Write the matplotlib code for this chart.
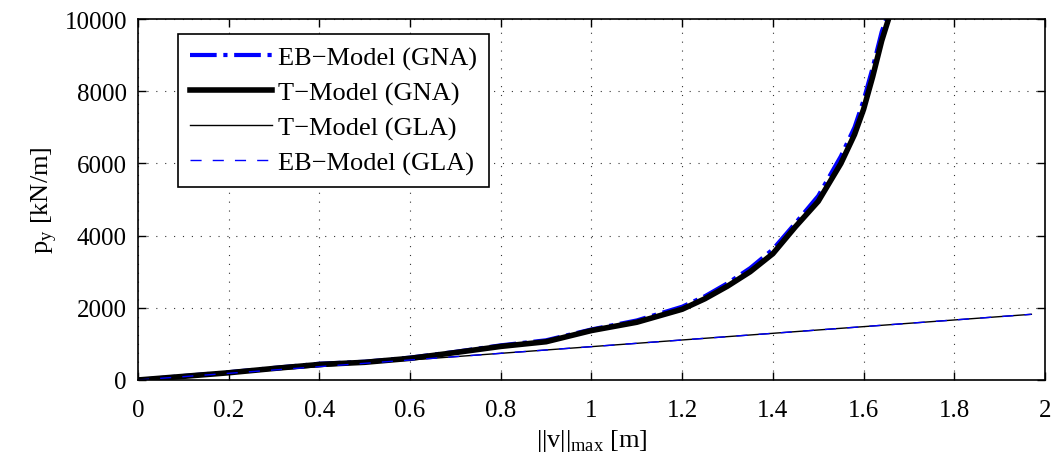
import numpy as np
import matplotlib.pyplot as plt

plt.rcParams['font.family'] = ['Liberation Serif', 'DejaVu Serif']
plt.rcParams['mathtext.fontset'] = 'custom'
plt.rcParams['mathtext.rm'] = 'Liberation Serif'

# T-Model (GNA): max displacement [m] vs load [kN/m]
t_gna_v = [0.0, 0.1, 0.2, 0.3, 0.4, 0.5, 0.6, 0.7, 0.8, 0.9, 1.0, 1.1, 1.2,
           1.25, 1.3, 1.35, 1.4, 1.45, 1.5, 1.55, 1.58, 1.6, 1.62, 1.64, 1.655]
t_gna_p = [0, 100, 200, 320, 430, 490, 600, 760, 930, 1060, 1370, 1600, 1960,
           2250, 2600, 3000, 3500, 4250, 4950, 6000, 6800, 7500, 8400, 9400, 10000]

# EB-Model (GNA)
eb_gna_v = [0.0, 0.1, 0.2, 0.3, 0.4, 0.5, 0.6, 0.7, 0.8, 0.9, 1.0, 1.1, 1.2,
            1.25, 1.3, 1.35, 1.4, 1.45, 1.5, 1.55, 1.58, 1.6, 1.62, 1.64, 1.65]
eb_gna_p = [0, 110, 215, 335, 450, 505, 620, 780, 960, 1100, 1400, 1650, 2030,
            2320, 2680, 3100, 3620, 4350, 5100, 6200, 7000, 7750, 8650, 9650, 10000]

# linear analysis (GLA)
gla_v = [0.0, 1.97]
gla_p = [0, 1820]

fig = plt.figure(figsize=(10.55, 4.56), dpi=100)
ax = fig.add_axes([0.1308, 0.1645, 0.8597, 0.7915])

ax.plot(eb_gna_v, eb_gna_p, color='blue', lw=3, ls='-.', label='EB\u2212Model (GNA)')
ax.plot(t_gna_v, t_gna_p, color='black', lw=4, ls='-', label='T\u2212Model (GNA)')
ax.plot(gla_v, gla_p, color='black', lw=1, ls='-', label='T\u2212Model (GLA)')
ax.plot(gla_v, gla_p, color='blue', lw=1, ls=(0, (8, 8)), label='EB\u2212Model (GLA)')

ax.set_xlim(0, 2)
ax.set_ylim(0, 10000)
ax.set_xticks(np.arange(0, 2.01, 0.2))
ax.set_xticklabels(['0', '0.2', '0.4', '0.6', '0.8', '1', '1.2', '1.4', '1.6', '1.8', '2'])
ax.set_yticks(np.arange(0, 10001, 2000))
ax.grid(True, color='black', ls=(0, (1, 7)), lw=0.8, alpha=0.8)
ax.tick_params(direction='in', top=True, right=True, length=6, width=1,
               labelsize=18)
ax.tick_params(axis='x', pad=14)
ax.tick_params(axis='y', pad=8)
for s in ax.spines.values():
    s.set_linewidth(1.2)

ax.set_xlabel('||v||$_\\mathregular{max}$ [m]', fontsize=19, labelpad=4)
ax.set_ylabel('p$_\\mathregular{y}$ [kN/m]', fontsize=19, labelpad=4)

leg = ax.legend(loc='upper left', bbox_to_anchor=(0.044, 0.958), borderaxespad=0,
                fontsize=19, fancybox=False, edgecolor='black', framealpha=1,
                handlelength=3.1, handletextpad=0.25, labelspacing=0.42,
                borderpad=0.45)
leg.get_frame().set_linewidth(1.2)

fig.savefig('out.png', dpi=100)
